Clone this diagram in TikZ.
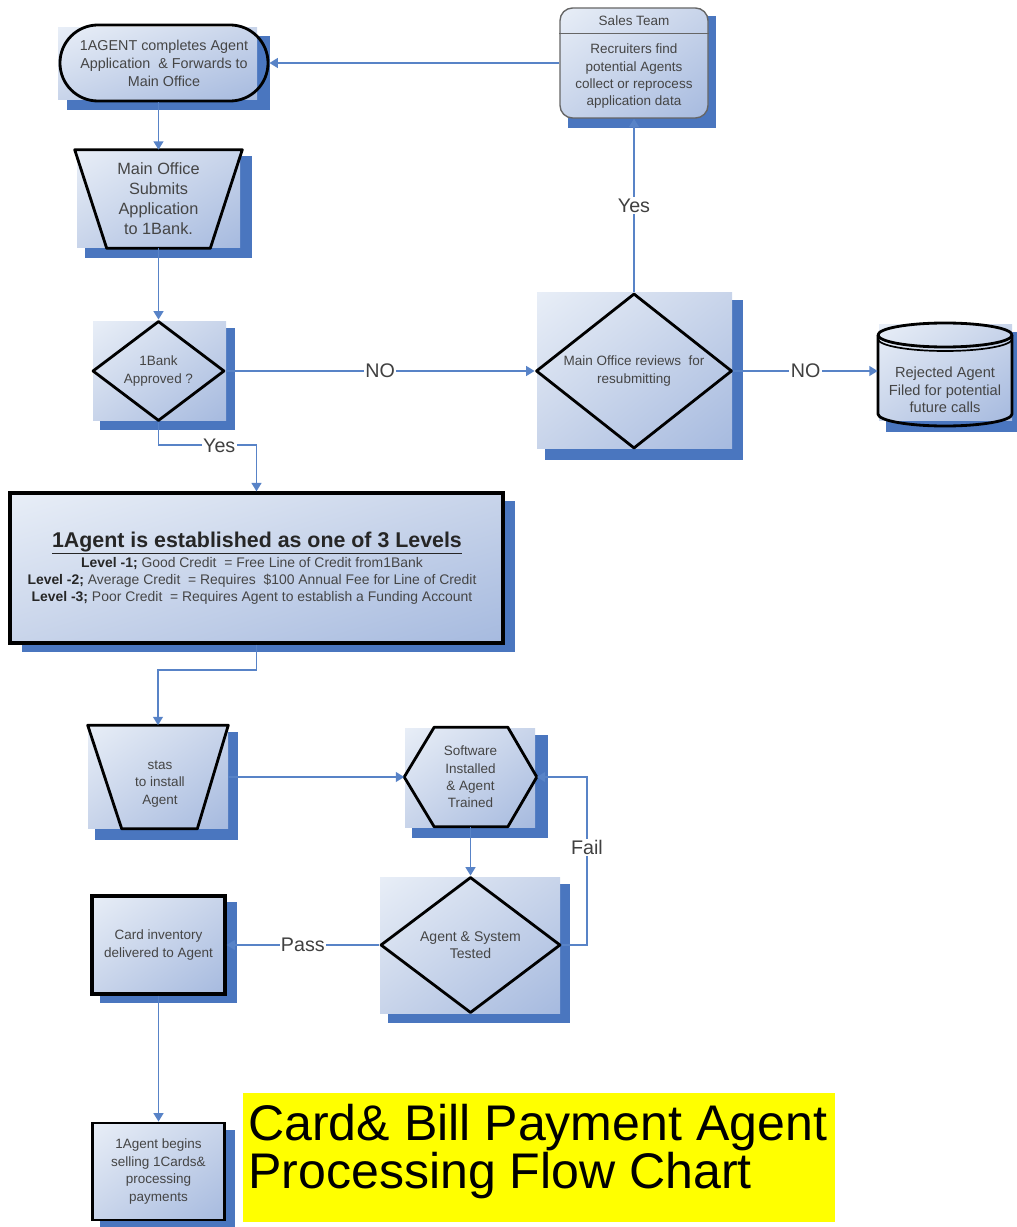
\documentclass[tikz,border=0pt]{standalone}
\usepackage{fontspec}
\setmainfont{Liberation Sans}
\usetikzlibrary{arrows.meta,calc,shapes.geometric,shadings}

\definecolor{shadowblue}{HTML}{4A76BF}
\definecolor{lineblue}{HTML}{5883C7}
\definecolor{bgA}{HTML}{E8EEF7}
\definecolor{bgB}{HTML}{C8D4EA}
\definecolor{bgC}{HTML}{A6BADF}
\definecolor{txt}{HTML}{454545}
\definecolor{titleyellow}{HTML}{FFFF00}

\newcommand{\pxl}[1]{#1*0.71132pt}
% background panel with a dark blue offset shadow
\newcommand{\panel}[8]{%
  \fill[shadowblue] (#5,#6) rectangle (#7,#8);
  \shade[upper left=bgA, upper right=bgB, lower left=bgB, lower right=bgC] (#1,#2) rectangle (#3,#4);
}

\tikzset{
  conn/.style={draw=lineblue, line width=1.3pt, -{Triangle[length=6pt,width=7pt]}},
  lbl/.style={fill=white, inner sep=1pt, text=black!75, font=\fontsize{14}{16}\selectfont},
  holder/.style={rectangle, inner sep=0pt, align=center, text=txt, font=\fontsize{9.6}{12.4}\selectfont},
  outline/.style={draw=black, line width=2pt, line join=round},
}

\begin{document}
\begin{tikzpicture}[x=0.025cm,y=-0.025cm]
\useasboundingbox (0,0) rectangle (1017,1227);

% ---------- 1AGENT completes ----------
\panel{58}{28}{257}{100}{67}{36}{270}{110}
\node[holder, outline, minimum width=\pxl{208}, minimum height=\pxl{76}, rounded corners=27pt,
  font=\fontsize{10.2}{12.8}\selectfont]
  (agent) at (164,63) {1AGENT completes Agent\\Application \ \& Forwards to\\Main Office};

% ---------- Sales Team ----------
\fill[shadowblue] (568,16) rectangle (716,128);
\shade[rounded corners=9pt, upper left=bgA, upper right=bgB, lower left=bgB, lower right=bgC] (560,8) rectangle (708,118);
\node[holder, draw=black!60, line width=1pt, rounded corners=9pt, minimum width=\pxl{148}, minimum height=\pxl{110}]
  (sales) at (634,63) {};
\draw[draw=black!60, line width=1pt] ($(sales.north west)+(0,26)$) -- ($(sales.north east)+(0,26)$);
\node[holder] (salesh) at ($(sales.north)+(0,13)$) {Sales Team};
\node[holder] (salesb) at ($(sales.north)+(0,69)$) {Recruiters find\\potential Agents\\collect or reprocess\\application data};

% ---------- Main Office Submits ----------
\panel{77}{150}{240}{248}{85}{156}{252}{258}
\node[holder, minimum width=\pxl{167}, minimum height=\pxl{98}, font=\fontsize{11.6}{14.2}\selectfont]
  (sub) at (158.5,199) {Main Office\\Submits\\Application\\to 1Bank.};
\draw[outline] (sub.north west) -- (sub.north east) -- ($(sub.south east)+(-32,0)$) -- ($(sub.south west)+(32,0)$) -- cycle;

% ---------- 1Bank Approved ----------
\panel{93}{322}{226}{420}{100}{328}{235}{430}
\node[diamond, outline, inner sep=0pt, minimum width=\pxl{132}, minimum height=\pxl{100},
  label={[holder]center:1Bank\\Approved ?}] (bank) at (158.5,371) {};

% ---------- Main Office reviews ----------
\panel{537}{293}{732}{448}{545}{300}{743}{460}
\node[diamond, outline, inner sep=0pt, minimum width=\pxl{196}, minimum height=\pxl{155},
  label={[holder]center:Main Office reviews \ for\\resubmitting}] (review) at (634,371) {};

% ---------- Rejected Agent (cylinder) ----------
\panel{879}{325}{1012}{420}{886}{332}{1017}{432}
\node[holder, minimum width=\pxl{134}, minimum height=\pxl{103}] (rej) at (945,374.5) {};
\draw[outline] (878,335) -- (878,414) .. controls (878,420.6) and (908,426) .. (945,426)
  .. controls (982,426) and (1012,420.6) .. (1012,414) -- (1012,335);
\draw[outline] (878,335) .. controls (878,328.4) and (908,323) .. (945,323)
  .. controls (982,323) and (1012,328.4) .. (1012,335)
  .. controls (1012,341.6) and (982,347) .. (945,347)
  .. controls (908,347) and (878,341.6) .. (878,335) -- cycle;
\draw[draw=black, line width=1.2pt] (878,339) .. controls (878,345.6) and (908,351) .. (945,351)
  .. controls (982,351) and (1012,345.6) .. (1012,339);
\node[holder, font=\fontsize{10.4}{12.5}\selectfont] (rejt) at (945,390) {Rejected Agent\\Filed for potential\\future calls};

% ---------- Levels box ----------
\panel{10}{493}{503}{643}{22}{501}{515}{652}
\node[draw=black, line width=2.3pt, inner sep=0pt, minimum width=\pxl{493}, minimum height=\pxl{150}]
  (level) at (256.5,568) {};
\node[holder, text=black!85, font=\fontsize{15.2}{17}\selectfont\bfseries] (leveltitle) at (257,543)
  {\underline{1Agent is established as one of 3 Levels}};
\node[holder, font=\fontsize{9.9}{12.2}\selectfont] (levellines) at (252,581)
  {\textcolor{black!85}{\textbf{Level -1;}} Good Credit \ = Free Line of Credit from1Bank\\
   \textcolor{black!85}{\textbf{Level -2;}} Average Credit \ = Requires \ \$100 Annual Fee for Line of Credit\\
   \textcolor{black!85}{\textbf{Level -3;}} Poor Credit \ = Requires Agent to establish a Funding Account};

% ---------- stas to install Agent ----------
\panel{88}{725}{228}{828}{95}{732}{238}{840}
\node[holder, minimum width=\pxl{140}, minimum height=\pxl{103}] (stas) at (158,777) {};
\draw[outline] (stas.north west) -- (stas.north east) -- ($(stas.south east)+(-31,0)$) -- ($(stas.south west)+(34,0)$) -- cycle;
\node[holder] (stast) at (160,784) {stas\\to install\\Agent};

% ---------- Software Installed ----------
\panel{405}{728}{535}{827}{412}{735}{548}{838}
\node[holder, minimum width=\pxl{132}, minimum height=\pxl{99}] (soft) at (470.5,777)
  {Software\\Installed\\\& Agent\\Trained};
\draw[outline] (soft.west) -- ($(soft.north west)+(30,0)$) -- ($(soft.north east)+(-29,0)$) -- (soft.east)
  -- ($(soft.south east)+(-29,0)$) -- ($(soft.south west)+(30,0)$) -- cycle;

% ---------- Agent & System Tested ----------
\panel{380}{877}{560}{1013}{388}{884}{570}{1023}
\node[diamond, outline, inner sep=0pt, minimum width=\pxl{180}, minimum height=\pxl{136},
  label={[holder, font=\fontsize{10}{12.4}\selectfont]center:Agent \& System\\Tested}] (test) at (470.5,945) {};

% ---------- Card inventory ----------
\panel{92}{895}{225}{993}{100}{902}{237}{1003}
\node[holder, draw=black, line width=2.2pt, minimum width=\pxl{133}, minimum height=\pxl{98}]
  (card) at (158.5,945) {Card inventory\\delivered to Agent};

% ---------- 1Agent begins ----------
\panel{93}{1123}{225}{1220}{100}{1130}{235}{1227}
\node[holder, draw=black, line width=2pt, minimum width=\pxl{132}, minimum height=\pxl{97}]
  (begin) at (158.5,1171.5) {1Agent begins\\selling 1Cards\&\\processing\\payments};

% ---------- Title ----------
\node[fill=titleyellow, inner sep=0pt, minimum width=\pxl{592}, minimum height=\pxl{129}] (title) at (539,1157.5) {};
\node[anchor=west, inner sep=0pt, align=left, text=black, font=\fontsize{35.6}{33}\selectfont]
  (titletxt) at (248,1152) {Card\& Bill Payment Agent\\Processing Flow Chart};

% ---------- Connectors ----------
\draw[conn] (sales.west) -- (agent.east);
\draw[conn] (agent.south -| sub.north) -- (sub.north);
\draw[conn] (sub.south) -- (bank.north);
\draw[conn] (bank.east) -- node[lbl]{NO} (review.west);
\draw[conn] (bank.south) |- node[lbl,pos=0.81]{Yes} ($(level.north)+(0,-46)$) -- (level.north);
\draw[conn] (review.north) -- node[lbl]{Yes} (sales.south);
\draw[conn] (review.east) -- node[lbl]{NO} (review.east -| rej.west);
\draw[conn] (level.south) -- ++(0,25) -| (stas.north);
\draw[conn] (stas.east) -- (soft.west);
\draw[conn] (soft.south) -- (test.north);
\draw[conn] (test.east) -- ++(25,0) |- node[lbl,pos=0.29]{Fail} (soft.east);
\draw[conn] (test.west) -- node[lbl]{Pass} (card.east);
\draw[conn] (card.south) -- (begin.north);
\end{tikzpicture}
\end{document}
